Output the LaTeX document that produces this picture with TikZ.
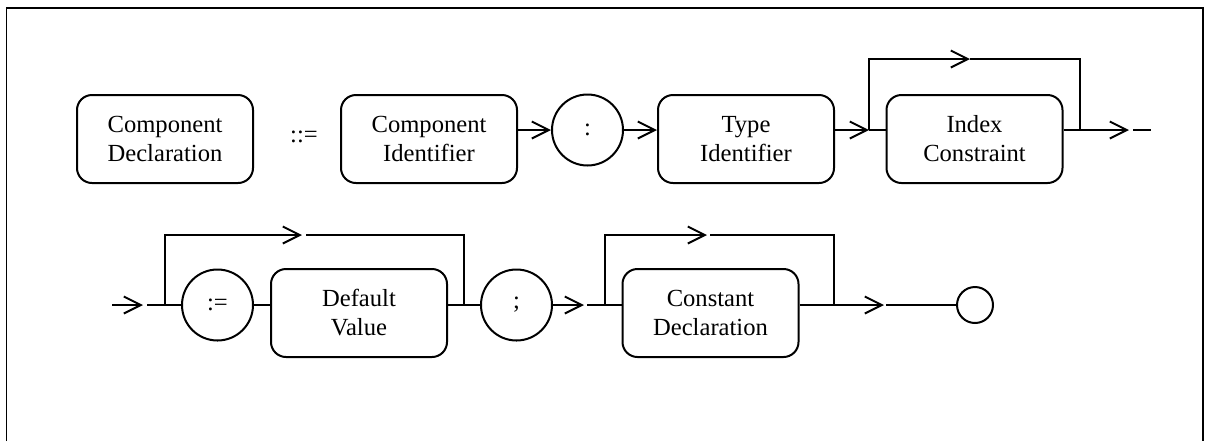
\documentclass[tikz,border=0pt]{standalone}
\usepackage{fontspec}
\setmainfont{Liberation Serif}
\usetikzlibrary{arrows.meta}
\tikzstyle{rbox}=[draw=black, line width=1pt, shape=rectangle, rounded corners=7.5pt, minimum width=88pt, minimum height=44pt, align=center, inner sep=0pt]
\tikzstyle{cir}=[draw=black, line width=1pt, shape=circle, minimum size=35.5pt, inner sep=0pt]
\tikzstyle{endcir}=[draw=black, line width=1pt, shape=circle, minimum size=18pt, inner sep=0pt]
\tikzstyle{flow}=[line width=1pt, -{Straight Barb[length=8.5pt, width=8.5pt]}]
\tikzstyle{link}=[line width=1pt]

\begin{document}
\begin{tikzpicture}[x=0.5pt, y=-0.5pt, font=\fontsize{12.3}{14.5}\selectfont]
		\useasboundingbox (0,0) rectangle (1205,441);
		\draw[line width=0.6pt] (6.5,441) -- (6.5,8) -- (1203,8) -- (1203,441);

		% first row
		\node[style=rbox] (1) at (165,139) {Component\\Declaration};
		\node (2) at (304,137) {::=};
		\node[style=rbox] (3) at (429,139) {Component\\Identifier};
		\node[style=cir] (4) at (587.5,130) {:};
		\node[style=rbox] (5) at (746,139) {Type\\Identifier};
		\node[style=rbox] (6) at (974.5,139) {Index\\Constraint};

		\coordinate (7) at (869,130);
		\coordinate (8) at (1080,130);
		\coordinate (9) at (970,59);
		\coordinate (10) at (1129,130);
		\coordinate (11) at (1133,130);
		\coordinate (12) at (1151,130);

		\draw[style=flow] (3.east |- 4) -- (4);
		\draw[style=flow] (4) -- (5.west |- 4);
		\draw[style=flow] (5.east |- 4) -- (7);
		\draw[style=link] (7) -- (6.west |- 7);
		\draw[style=flow] (7) |- (9);
		\draw[style=link] (9) -| (8);
		\draw[style=link] (6.east |- 8) -- (8);
		\draw[style=flow] (8) -- (10);
		\draw[style=link] (11) -- (12);

		% second row
		\node[style=cir] (13) at (217.5,305) {:=};
		\node[style=rbox] (14) at (359,313) {Default\\Value};
		\node[style=cir] (15) at (516.5,305) {;};
		\node[style=rbox] (16) at (710.5,313) {Constant\\Declaration};
		\node[style=endcir] (17) at (975,305) {};

		\coordinate (18) at (112,305);
		\coordinate (19) at (143,305);
		\coordinate (20) at (147,305);
		\coordinate (21) at (165,305);
		\coordinate (22) at (302,235);
		\coordinate (23) at (306,235);
		\coordinate (24) at (464,305);
		\coordinate (25) at (584,305);
		\coordinate (26) at (587,305);
		\coordinate (27) at (605,305);
		\coordinate (28) at (707,235);
		\coordinate (29) at (710,235);
		\coordinate (30) at (834,305);
		\coordinate (31) at (884,305);
		\coordinate (32) at (886,305);

		\draw[style=flow] (18) -- (19);
		\draw[style=link] (20) -- (13);
		\draw[style=flow] (21) |- (22);
		\draw[style=link] (23) -| (24);
		\draw[style=link] (13) -- (14.west |- 13);
		\draw[style=link] (14.east |- 13) -- (15);
		\draw[style=flow] (15) -- (25);
		\draw[style=link] (26) -- (16.west |- 26);
		\draw[style=flow] (27) |- (28);
		\draw[style=link] (29) -| (30);
		\draw[style=flow] (16.east |- 30) -- (31);
		\draw[style=link] (32) -- (17);
	\end{tikzpicture}
\end{document}
